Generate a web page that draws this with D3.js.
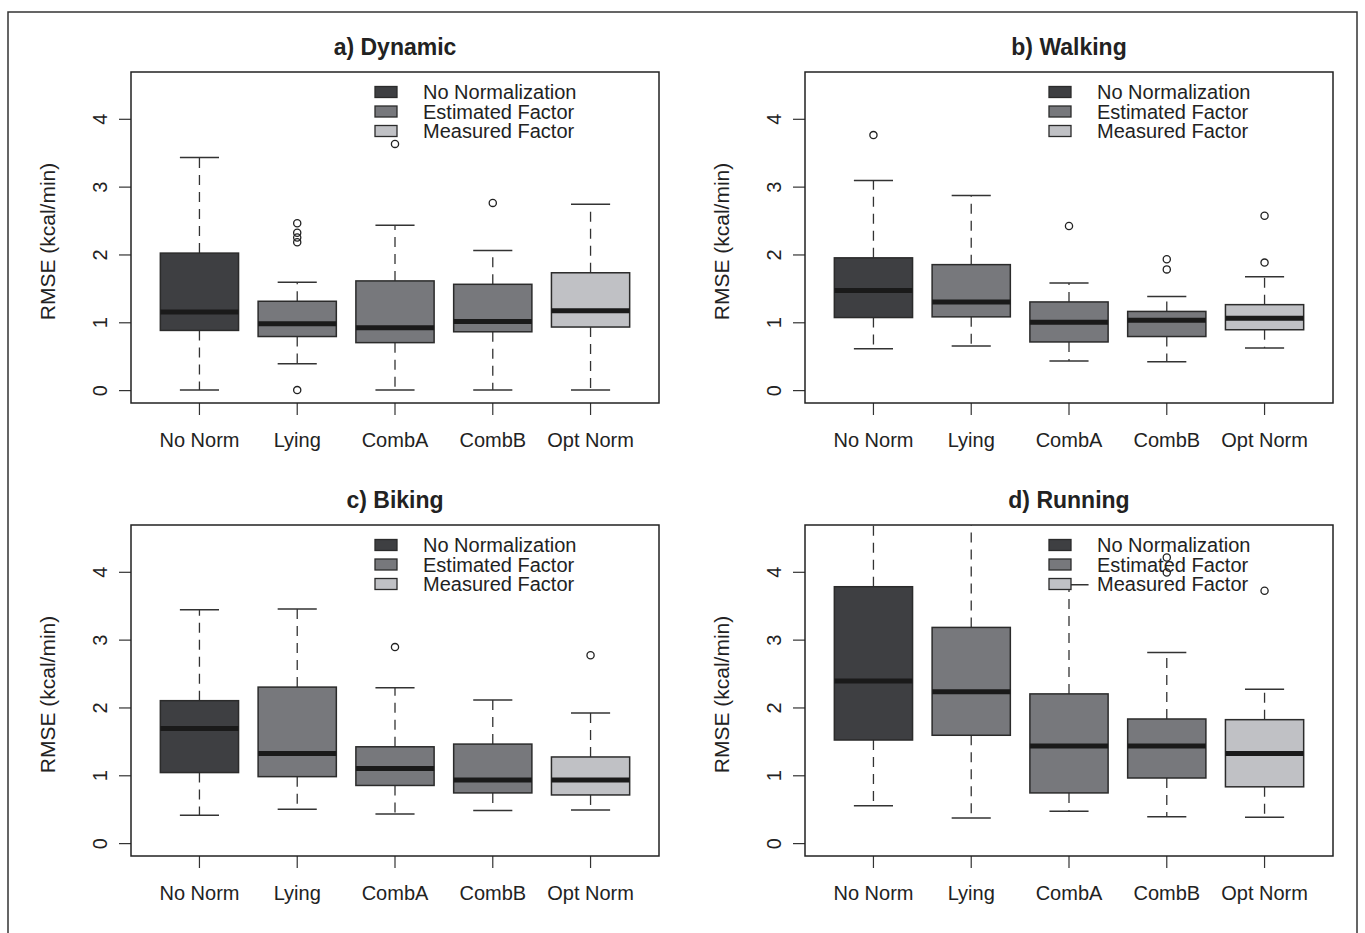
<!DOCTYPE html>
<html>
<head>
<meta charset="utf-8">
<script src="https://cdn.jsdelivr.net/npm/d3@7"></script>
<style>
  body { margin: 0; background: #fff; }
  text { font-family: "Liberation Sans", Arial, sans-serif; fill: #222; }
</style>
</head>
<body>
<svg id="chart" width="1365" height="933"></svg>
<script>
// categories and groups
const categories = ["No Norm", "Lying", "CombA", "CombB", "Opt Norm"];
const groups = ["No Normalization", "Estimated Factor", "Measured Factor"];
const groupOfCategory = [0, 1, 1, 1, 2];
const yTicks = [0, 1, 2, 3, 4];
const panelTitles = ["a) Dynamic", "b) Walking", "c) Biking", "d) Running"];

// box stats per category: [lower whisker, q1, median, q3, upper whisker]
const dynamicStats = [
    [0.00, 0.88, 1.15, 2.02, 3.43],
    [0.39, 0.79, 0.98, 1.31, 1.59],
    [0.00, 0.70, 0.92, 1.61, 2.43],
    [0.00, 0.86, 1.01, 1.56, 2.06],
    [0.00, 0.93, 1.17, 1.73, 2.74]
];
const dynamicOutliers = [[], [2.46, 2.32, 2.25, 2.18, 0.00], [3.63], [2.76], []];

const walkingStats = [
    [0.61, 1.07, 1.47, 1.95, 3.09],
    [0.65, 1.08, 1.30, 1.85, 2.87],
    [0.43, 0.71, 1.00, 1.30, 1.58],
    [0.42, 0.79, 1.03, 1.16, 1.38],
    [0.62, 0.89, 1.06, 1.26, 1.67]
];
const walkingOutliers = [[3.76], [], [2.42], [1.93, 1.78], [2.57, 1.88]];

const bikingStats = [
    [0.41, 1.04, 1.69, 2.10, 3.44],
    [0.50, 0.98, 1.32, 2.30, 3.45],
    [0.43, 0.85, 1.10, 1.42, 2.29],
    [0.48, 0.74, 0.93, 1.46, 2.11],
    [0.49, 0.71, 0.93, 1.27, 1.92]
];
const bikingOutliers = [[], [], [2.89], [], [2.77]];

const runningStats = [
    [0.55, 1.52, 2.39, 3.78, 5.10],
    [0.37, 1.59, 2.23, 3.18, 5.30],
    [0.47, 0.74, 1.43, 2.20, 3.81],
    [0.39, 0.96, 1.43, 1.83, 2.81],
    [0.38, 0.83, 1.32, 1.82, 2.27]
];
const runningOutliers = [[], [], [], [4.21, 3.99], [3.72]];

const groupColors = ["#3e3f42", "#77787c", "#c0c1c5"];

const svg = d3.select("#chart");

// outer frame
svg.append("rect")
    .attr("x", 8).attr("y", 12)
    .attr("width", 1349).attr("height", 940)
    .attr("fill", "none").attr("stroke", "#333").attr("stroke-width", 1.5);

const plotW = 528, plotH = 331;
const panels = [
    { title: panelTitles[0], stats: dynamicStats, outliers: dynamicOutliers, x0: 131, y0: 72 },
    { title: panelTitles[1], stats: walkingStats, outliers: walkingOutliers, x0: 805, y0: 72 },
    { title: panelTitles[2], stats: bikingStats, outliers: bikingOutliers, x0: 131, y0: 525 },
    { title: panelTitles[3], stats: runningStats, outliers: runningOutliers, x0: 805, y0: 525 }
];

panels.forEach((p, pi) => drawPanel(p, pi));

function drawPanel(p, pi) {
    const x0 = p.x0, y0 = p.y0;
    const g = svg.append("g");

    const x = d3.scaleBand()
        .domain(categories)
        .range([x0, x0 + plotW])
        .paddingInner(0.2)
        .paddingOuter(0.3);

    const y = d3.scaleLinear()
        .domain([-0.19, 4.69])
        .range([y0 + plotH, y0]);

    // clip
    const clipId = "clip" + pi;
    svg.append("clipPath").attr("id", clipId)
        .append("rect")
        .attr("x", x0).attr("y", y0)
        .attr("width", plotW).attr("height", plotH);

    // title
    g.append("text")
        .attr("x", x0 + plotW / 2)
        .attr("y", y0 - 17)
        .attr("text-anchor", "middle")
        .style("font-size", "23px")
        .style("font-weight", "bold")
        .text(p.title);

    // y axis
    const yAxis = g.append("g")
        .attr("transform", `translate(${x0},0)`)
        .call(d3.axisLeft(y).tickValues(yTicks).tickSize(12).tickSizeOuter(0).tickFormat(d3.format("d")));
    yAxis.select(".domain").remove();
    yAxis.selectAll("line").attr("stroke", "#333").attr("stroke-width", 1.2);
    yAxis.selectAll("text")
        .attr("x", null).attr("dy", null)
        .attr("transform", "translate(-24,0) rotate(-90)")
        .attr("text-anchor", "middle")
        .style("font-size", "20px")
        .style("font-family", "'Liberation Sans', Arial, sans-serif")
        .style("fill", "#222");

    // y label
    g.append("text")
        .attr("transform", `translate(${x0 - 76},${y0 + plotH / 2 + 4}) rotate(-90)`)
        .attr("text-anchor", "middle")
        .style("font-size", "21px")
        .text("RMSE (kcal/min)");

    // x axis
    const xAxis = g.append("g")
        .attr("transform", `translate(0,${y0 + plotH})`)
        .call(d3.axisBottom(x).tickSize(12).tickSizeOuter(0).tickPadding(18));
    xAxis.select(".domain").remove();
    xAxis.selectAll("line").attr("stroke", "#333").attr("stroke-width", 1.2);
    xAxis.selectAll("text")
        .style("font-size", "20px")
        .style("font-family", "'Liberation Sans', Arial, sans-serif")
        .style("fill", "#222");

    // boxes
    const boxes = g.append("g").attr("clip-path", `url(#${clipId})`);
    const bw = x.bandwidth();

    p.stats.forEach((s, i) => {
        const cat = categories[i];
        const bx = x(cat);
        const cx = bx + bw / 2;
        const [lo, q1, med, q3, hi] = s;
        const bg = boxes.append("g");

        // whiskers
        bg.append("line")
            .attr("x1", cx).attr("x2", cx)
            .attr("y1", y(q3)).attr("y2", y(hi))
            .attr("stroke", "#333").attr("stroke-width", 1.3)
            .attr("stroke-dasharray", "10,7");
        bg.append("line")
            .attr("x1", cx).attr("x2", cx)
            .attr("y1", y(q1)).attr("y2", y(lo))
            .attr("stroke", "#333").attr("stroke-width", 1.3)
            .attr("stroke-dasharray", "10,7");
        [lo, hi].forEach(v => {
            bg.append("line")
                .attr("x1", cx - bw / 4).attr("x2", cx + bw / 4)
                .attr("y1", y(v)).attr("y2", y(v))
                .attr("stroke", "#333").attr("stroke-width", 1.5);
        });

        // box
        bg.append("rect")
            .attr("x", bx).attr("y", y(q3))
            .attr("width", bw).attr("height", y(q1) - y(q3))
            .attr("fill", groupColors[groupOfCategory[i]])
            .attr("stroke", "#2b2b2b").attr("stroke-width", 1.5);

        // median
        bg.append("line")
            .attr("x1", bx).attr("x2", bx + bw)
            .attr("y1", y(med)).attr("y2", y(med))
            .attr("stroke", "#1a1a1a").attr("stroke-width", 5);

        // outliers
        bg.selectAll("circle")
            .data(p.outliers[i])
            .enter().append("circle")
            .attr("cx", cx).attr("cy", d => y(d))
            .attr("r", 3.6)
            .attr("fill", "none")
            .attr("stroke", "#222").attr("stroke-width", 1.3);
    });

    // plot frame
    g.append("rect")
        .attr("x", x0).attr("y", y0)
        .attr("width", plotW).attr("height", plotH)
        .attr("fill", "none").attr("stroke", "#222").attr("stroke-width", 1.5);

    // legend
    const leg = g.append("g");
    groups.forEach((name, k) => {
        const ly = y0 + 20 + k * 19.5;
        leg.append("rect")
            .attr("x", x0 + 244).attr("y", ly - 5.5)
            .attr("width", 22).attr("height", 11)
            .attr("fill", groupColors[k])
            .attr("stroke", "#2b2b2b").attr("stroke-width", 1.3);
        leg.append("text")
            .attr("x", x0 + 292).attr("y", ly)
            .attr("dy", "0.36em")
            .style("font-size", "20px")
            .text(name);
    });
}
</script>
</body>
</html>
